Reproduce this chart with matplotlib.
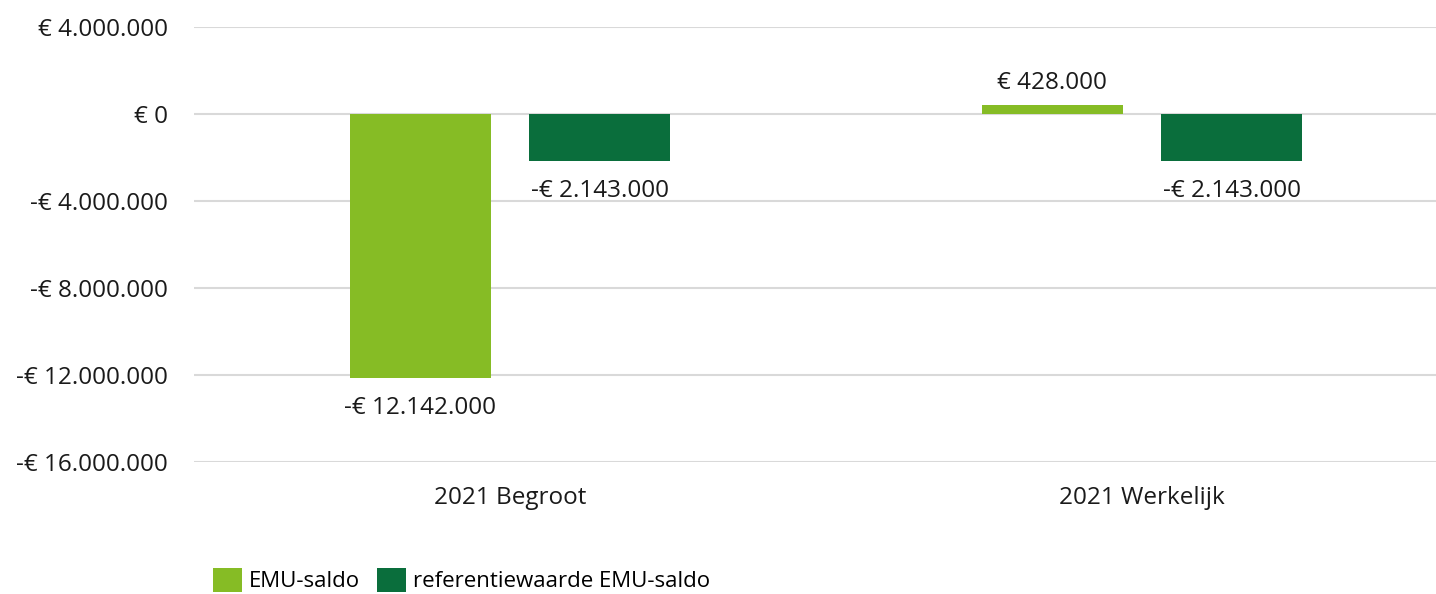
import numpy as np
import matplotlib.pyplot as plt
from matplotlib.ticker import FuncFormatter

categories = ["2021 Begroot", "2021 Werkelijk"]
emu_saldo = [-12142000, 428000]
referentie = [-2143000, -2143000]
series_names = ["EMU-saldo", "referentiewaarde EMU-saldo"]
y_ticks = [4000000, 0, -4000000, -8000000, -12000000, -16000000]

LIGHT = "#86bc25"
DARK = "#0a6e3c"

plt.rcParams["font.family"] = ["Open Sans", "DejaVu Sans"]


def euro(v, pos=None):
    s = f"{abs(int(round(v))):,}".replace(",", ".")
    return ("-€ " if v < 0 else "€ ") + s


fig = plt.figure(figsize=(14.36, 5.94), dpi=100)
ax = fig.add_axes([194 / 1436, 1 - 462 / 594, 1264 / 1436, 435 / 594])

x = np.arange(len(categories))
off, w = 0.142, 0.223
b1 = ax.bar(x - off, emu_saldo, w, color=LIGHT, label=series_names[0], zorder=3)
b2 = ax.bar(x + off, referentie, w, color=DARK, label=series_names[1], zorder=3)

for bars in (b1, b2):
    for r in bars:
        v = r.get_height()
        cx = r.get_x() + r.get_width() / 2
        if v >= 0:
            ax.annotate(euro(v), (cx, v), xytext=(0, 7), textcoords="offset points",
                        ha="center", va="bottom", fontsize=17.5, color="#1a1a1a")
        else:
            ax.annotate(euro(v), (cx, v), xytext=(0, -13), textcoords="offset points",
                        ha="center", va="top", fontsize=17.5, color="#1a1a1a")

ax.set_xlim(-0.5, 1.5)
ax.set_ylim(-16000000, 4000000)
ax.set_yticks(y_ticks)
ax.yaxis.set_major_formatter(FuncFormatter(euro))
ax.set_xticks(x)
ax.set_xticklabels(categories)
ax.grid(axis="y", color="#d9d9d9", linewidth=1.5, zorder=0)
ax.tick_params(axis="y", length=0, pad=19, labelsize=17.5, labelcolor="#1a1a1a")
ax.tick_params(axis="x", length=0, pad=17, labelsize=17.5, labelcolor="#1a1a1a")
for s in ax.spines.values():
    s.set_visible(False)

fig.legend(loc="lower left", bbox_to_anchor=(204 / 1436, -0.012), ncol=2, frameon=False,
           fontsize=16, handlelength=1.3, handleheight=1.25, handletextpad=0.3,
           columnspacing=0.8, borderaxespad=0)

fig.savefig("out.png", dpi=100)
